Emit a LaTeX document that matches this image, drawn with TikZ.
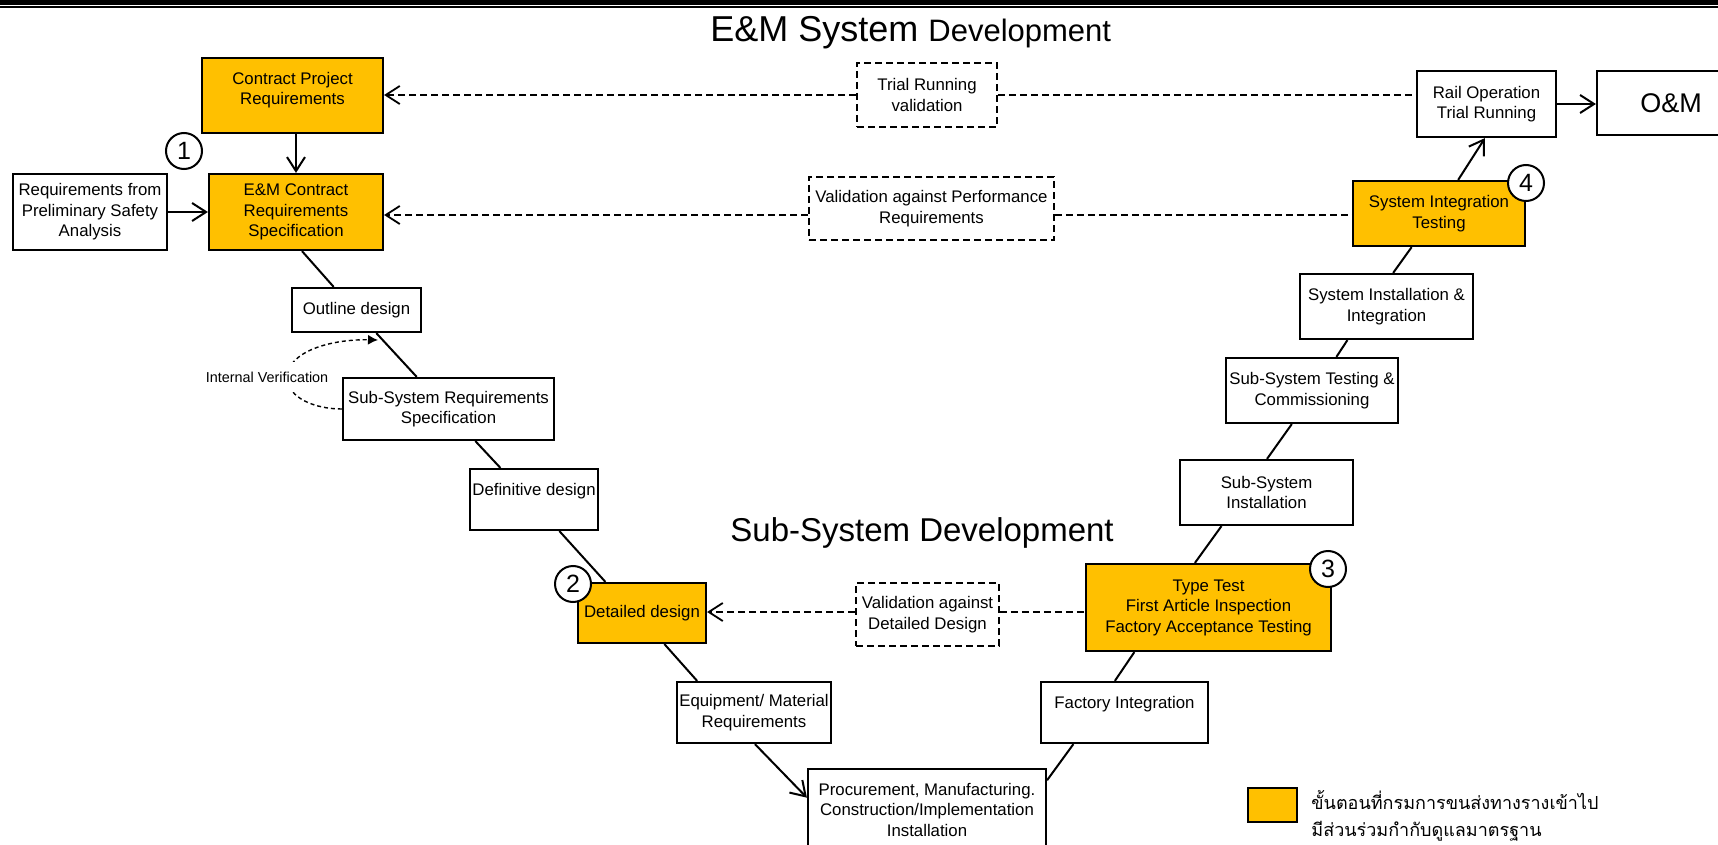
\documentclass[tikz,border=0pt]{standalone}
\usepackage{fontspec}
\setmainfont{Liberation Sans}
\newfontfamily\thaifont[Script=Thai]{Loma}
\usetikzlibrary{arrows.meta,calc}
\definecolor{gold}{HTML}{FFC000}
\tikzset{
  box/.style 2 args={draw,line width=1.1pt,rectangle,inner sep=1pt,
    minimum width=#1*0.5pt,minimum height=#2*0.5pt,align=center,
    font=\fontsize{8.4}{10.25}\selectfont},
  ybox/.style 2 args={box={#1}{#2},fill=gold},
  dbox/.style 2 args={box={#1}{#2},line width=0.9pt,dash pattern=on 3.5pt off 2pt},
  num/.style={circle,draw,fill=white,line width=1pt,minimum size=18pt,inner sep=0pt,
    font=\fontsize{12.5}{14}\selectfont},
  link/.style={line width=1pt},
  arr/.style={link,-{Straight Barb[length=7pt,width=9pt]}},
  dline/.style={line width=0.9pt,dash pattern=on 3.5pt off 2pt},
  darr/.style={dline,-{Straight Barb[length=7pt,width=9pt]}},
  dotcurve/.style={line width=0.7pt,dash pattern=on 2pt off 1.5pt,-{Latex[length=5pt,width=5pt]}},
  heading/.style={anchor=base west,inner sep=0pt},
  thai/.style={anchor=west,inner sep=0pt,font=\thaifont\fontsize{9}{11}\selectfont},
}
\begin{document}
\begin{tikzpicture}[x=0.5pt,y=-0.5pt]
\useasboundingbox (0,0) rectangle (1718,845);

% double rule along the top edge
\fill (0,0) rectangle (1718,5);
\fill (0,6.3) rectangle (1718,8.5);

% headings
\node[heading] (title) at (710,42)
  {\fontsize{18}{20}\selectfont E\&M System \fontsize{15.5}{18}\selectfont Development};
\node[heading,font=\fontsize{16.5}{19}\selectfont] (subtitle) at (730,541) {Sub-System Development};

% E&M system level
\node[ybox={181}{75}] (cpr) at (292.5,95.5) {Contract Project\\Requirements\\[-3pt]\mbox{}};
\node[box={154}{76}] (psa) at (90,212) {Requirements from\\Preliminary Safety\\Analysis};
\node[ybox={174}{76}] (emc) at (296,212) {E\&M Contract\\Requirements\\Specification};
\node[dbox={140}{64}] (trial) at (927,95) {Trial Running\\validation};
\node[dbox={245}{63}] (valp) at (931.5,208.5) {Validation against Performance\\Requirements};
\node[box={139}{66}] (rail) at (1486.5,104) {Rail Operation\\Trial Running};
\node[box={148}{64},font=\fontsize{13.5}{16}\selectfont] (om) at (1671,103) {O\&M};
\node[ybox={172}{65}] (sit) at (1439,213.5) {System Integration\\Testing};

% left branch of the V
\node[box={129}{44}] (outl) at (356.5,310) {Outline design};
\node[box={211}{62}] (ssrs) at (448.5,409) {Sub-System Requirements\\Specification};
\node[box={128}{61}] (defn) at (534,499.5) {Definitive design\\\mbox{}};
\node[ybox={128}{60}] (dd) at (642,613) {Detailed design};
\node[box={154}{61}] (eqm) at (754,712.5) {Equipment/ Material\\Requirements};
\node[box={238}{81}] (proc) at (927,809.5) {Procurement, Manufacturing.\\Construction/Implementation\\Installation};

% right branch of the V
\node[box={167}{61}] (fi) at (1124.5,712.5) {Factory Integration\\\mbox{}};
\node[ybox={245}{87}] (tt) at (1208.5,607.5) {Type Test\\First Article Inspection\\Factory Acceptance Testing};
\node[dbox={143}{63}] (valdd) at (927.5,614.5) {Validation against\\Detailed Design};
\node[box={173}{65}] (subi) at (1266.5,492.5) {Sub-System\\Installation};
\node[box={172}{65}] (subt) at (1312,390.5) {Sub-System Testing \&\\Commissioning};
\node[box={173}{65}] (sysi) at (1386.5,306.5) {System Installation \&\\Integration};

% solid arrows
\draw[arr] (emc.north |- cpr.south) -- (emc.north);
\draw[arr] (psa.east) -- (emc.west);
\draw[arr] (rail.east) -- (rail.east -| om.west);
\draw[arr] ($(sit.north west)!0.61!(sit.north east)$) -- ($(rail.south west)!0.489!(rail.south east)$);
\draw[arr] ($(eqm.south west)!0.506!(eqm.south east)$) -- ($(proc.north west)!0.358!(proc.south west)$);

% plain links down and up the V
\draw[link] ($(emc.south west)!0.534!(emc.south east)$) -- ($(outl.north west)!0.326!(outl.north east)$);
\draw[link] ($(outl.south west)!0.651!(outl.south east)$) -- ($(ssrs.north west)!0.351!(ssrs.north east)$);
\draw[link] ($(ssrs.south west)!0.626!(ssrs.south east)$) -- ($(defn.north west)!0.242!(defn.north east)$);
\draw[link] ($(defn.south west)!0.695!(defn.south east)$) -- ($(dd.north west)!0.219!(dd.north east)$);
\draw[link] ($(dd.south west)!0.672!(dd.south east)$) -- ($(eqm.north west)!0.136!(eqm.north east)$);
\draw[link] ($(proc.north east)!0.148!(proc.south east)$) -- ($(fi.south west)!0.198!(fi.south east)$);
\draw[link] ($(fi.north west)!0.443!(fi.north east)$) -- ($(tt.south west)!0.2!(tt.south east)$);
\draw[link] ($(tt.north west)!0.445!(tt.north east)$) -- ($(subi.south west)!0.243!(subi.south east)$);
\draw[link] ($(subi.north west)!0.503!(subi.north east)$) -- ($(subt.south west)!0.384!(subt.south east)$);
\draw[link] ($(subt.north west)!0.64!(subt.north east)$) -- ($(sysi.south west)!0.277!(sysi.south east)$);
\draw[link] ($(sysi.north west)!0.538!(sysi.north east)$) -- ($(sit.south west)!0.343!(sit.south east)$);

% validation links (dashed)
\coordinate (row2) at (0,215);
\coordinate (row3) at (0,612);
\draw[darr] (trial.west) -- (trial.west -| cpr.east);
\draw[dline] (trial.east) -- (trial.east -| rail.west);
\draw[darr] (valp.west |- row2) -- (emc.east |- row2);
\draw[dline] (valp.east |- row2) -- (sit.west |- row2);
\draw[darr] (valdd.west |- row3) -- (dd.east |- row3);
\draw[dline] (valdd.east |- row3) -- (tt.west |- row3);

% internal verification loop
\coordinate (ivtip) at (378,340);
\draw[dotcurve] (ssrs.west) .. controls (315,409) and (288,398) .. (287,378)
  .. controls (287,352) and (330,339) .. (ivtip);
\node[fill=white,inner xsep=1pt,inner ysep=5pt,font=\fontsize{7.2}{8.6}\selectfont] (iv) at (267,377) {Internal Verification};

% step numbers
\node[num] (n1) at (184,151) {1};
\node[num] (n2) at (573,584) {2};
\node[num] (n3) at (1328,569) {3};
\node[num] (n4) at (1526,183) {4};

% legend
\node[draw,fill=gold,line width=1pt,minimum width=24.5pt,minimum height=17pt,inner sep=0pt] (key) at (1272.5,805) {};
\node[thai] (keya) at (1311,800) {ขั้นตอนที่กรมการขนส่งทางรางเข้าไป};
\node[thai] (keyb) at (1311,831) {มีส่วนร่วมกำกับดูแลมาตรฐาน};
\end{tikzpicture}
\end{document}
